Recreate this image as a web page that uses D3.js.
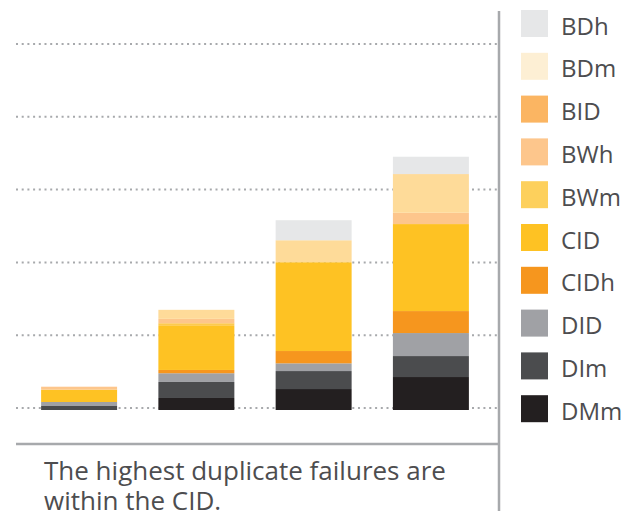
<!DOCTYPE html>
<html>
<head>
<meta charset="utf-8">
<style>
  body { margin: 0; background: #fff; }
  svg { display: block; font-family: "Open Sans", sans-serif; }
</style>
</head>
<body>
<div id="chart"></div>
<script src="https://d3js.org/d3.v7.min.js"></script>
<script>
// data (one gridline step = 10)
var categories = ["A", "B", "C", "D"];
var keys = ["DMm", "DIm", "DID", "CIDh", "CID", "BWm", "BWh", "BID", "BDm", "BDh"];
var DMm  = [0,    1.65, 2.88, 4.53];
var DIm  = [0.55, 2.2,  2.47, 2.88];
var DID  = [0.55, 1.2,  1.06, 3.16];
var CIDh = [0,    0.45, 1.69, 3.02];
var CID  = [1.7,  6.05, 12.2, 11.95];
var BWm  = [0,    0.37, 0,    0];
var BWh  = [0.4,  0.6,  0,    1.55];
var BID  = [0,    0,    0,    0];
var BDm  = [0,    1.24, 3.02, 5.32];
var BDh  = [0,    0,    2.75, 2.38];
var gridTicks = [0, 10, 20, 30, 40, 50];

var barColors    = ["#231f20", "#4b4c4e", "#a0a1a5", "#f6961e", "#fec223", "#fdca4e", "#fdc68c", "#fbb562", "#fedb99", "#e6e7e8"];
var legendColors = ["#231f20", "#4b4c4e", "#a0a1a5", "#f6961e", "#fec223", "#fdd05c", "#fdc68c", "#fbb562", "#fdefd4", "#e6e7e8"];

var series = { DMm: DMm, DIm: DIm, DID: DID, CIDh: CIDh, CID: CID, BWm: BWm, BWh: BWh, BID: BID, BDm: BDm, BDh: BDh };
var data = categories.map(function(c, i) {
  var row = { cat: c };
  keys.forEach(function(k) { row[k] = series[k][i]; });
  return row;
});

var width = 634, height = 511;
var svg = d3.select("#chart").append("svg")
    .attr("width", width)
    .attr("height", height);

var x = d3.scaleBand()
    .domain(categories)
    .range([20, 490])
    .paddingInner(0.352)
    .paddingOuter(0.18);

var y = d3.scaleLinear()
    .domain([0, 50])
    .range([408, 44]);

var color = d3.scaleOrdinal().domain(keys).range(barColors);

// dotted gridlines
svg.append("g")
  .selectAll("line")
  .data(gridTicks)
  .enter().append("line")
    .attr("x1", 16)
    .attr("x2", 497)
    .attr("y1", function(d) { return y(d); })
    .attr("y2", function(d) { return y(d); })
    .attr("stroke", "#a7a9ac")
    .attr("stroke-width", 2)
    .attr("stroke-dasharray", "2,3.7");

// stacked bars
svg.append("g")
    .attr("transform", "translate(0,2)")
  .selectAll("g")
  .data(d3.stack().keys(keys)(data))
  .enter().append("g")
    .attr("fill", function(d) { return color(d.key); })
  .selectAll("rect")
  .data(function(d) { return d; })
  .enter().append("rect")
    .attr("x", function(d) { return x(d.data.cat); })
    .attr("y", function(d) { return y(d[1]); })
    .attr("height", function(d) { return y(d[0]) - y(d[1]); })
    .attr("width", x.bandwidth());

// frame lines
svg.append("line")
    .attr("x1", 16).attr("x2", 499)
    .attr("y1", 444).attr("y2", 444)
    .attr("stroke", "#a7a9ac")
    .attr("stroke-width", 2.5);

svg.append("line")
    .attr("x1", 499).attr("x2", 499)
    .attr("y1", 11).attr("y2", height)
    .attr("stroke", "#a7a9ac")
    .attr("stroke-width", 2.5);

// legend, top to bottom
var legendKeys = keys.slice().reverse();
var legendFill = legendColors.slice().reverse();
var legend = svg.append("g")
  .selectAll("g")
  .data(legendKeys)
  .enter().append("g")
    .attr("transform", function(d, i) { return "translate(521," + (10 + i * 42.8) + ")"; });

legend.append("rect")
    .attr("width", 27)
    .attr("height", 27)
    .attr("fill", function(d, i) { return legendFill[i]; });

legend.append("text")
    .attr("x", 40)
    .attr("y", 24.5)
    .attr("fill", "#4d4d4f")
    .style("font-size", "24px")
    .text(function(d) { return d; });

// note below the chart
var note = svg.append("text")
    .attr("x", 44)
    .attr("y", 480)
    .attr("fill", "#4d4d4f")
    .style("font-size", "26px");
note.append("tspan").attr("x", 44).text("The highest duplicate failures are");
note.append("tspan").attr("x", 44).attr("dy", 30).text("within the CID.");
</script>
</body>
</html>
